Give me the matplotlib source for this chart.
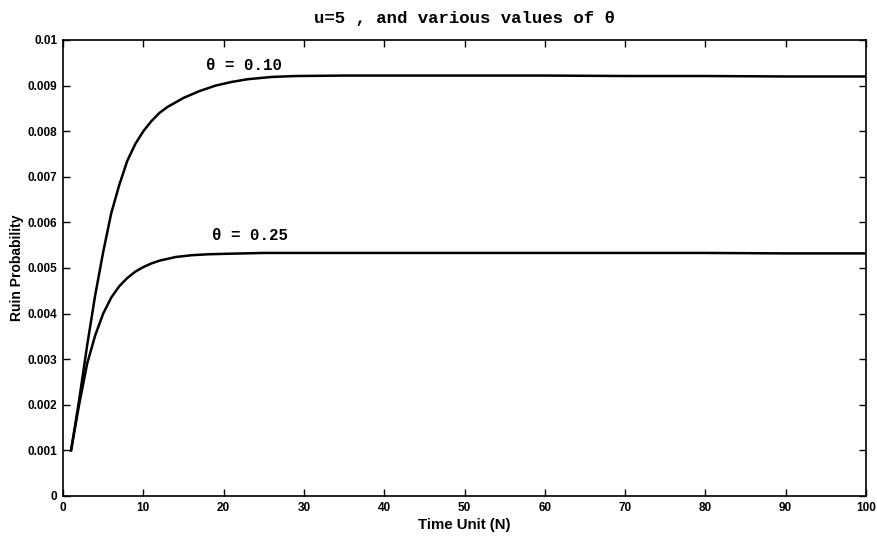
import matplotlib
matplotlib.use("Agg")
import matplotlib.pyplot as plt

# time units (N) and ruin probabilities
n_010 = [1, 2, 3, 4, 5, 6, 7, 8, 9, 10, 11, 12, 13, 15, 17, 19, 21, 23, 26, 29, 35, 40, 50, 60, 70, 80, 90, 100]
p_010 = [0.00100, 0.00210, 0.00330, 0.00440, 0.00535, 0.00620, 0.00682, 0.00735, 0.00772, 0.00800,
         0.00822, 0.00840, 0.00853, 0.00873, 0.00888, 0.00900, 0.00908, 0.00914, 0.00919, 0.00921,
         0.00922, 0.00922, 0.00922, 0.00922, 0.00921, 0.00921, 0.00920, 0.00920]

n_025 = [1, 2, 3, 4, 5, 6, 7, 8, 9, 10, 11, 12, 14, 16, 18, 20, 25, 30, 40, 50, 60, 70, 80, 90, 100]
p_025 = [0.00100, 0.00200, 0.00290, 0.00352, 0.00400, 0.00435, 0.00460, 0.00478, 0.00492, 0.00502,
         0.00510, 0.00516, 0.00524, 0.00528, 0.00530, 0.00531, 0.00533, 0.00533, 0.00533, 0.00533,
         0.00533, 0.00533, 0.00533, 0.00532, 0.00532]

x_ticks = [0, 10, 20, 30, 40, 50, 60, 70, 80, 90, 100]
y_ticks = [0, 0.001, 0.002, 0.003, 0.004, 0.005, 0.006, 0.007, 0.008, 0.009, 0.01]
y_tick_labels = ["0", "0.001", "0.002", "0.003", "0.004", "0.005",
                 "0.006", "0.007", "0.008", "0.009", "0.01"]

sans = "Liberation Sans"
mono = "Liberation Mono"

fig = plt.figure(figsize=(8.78, 5.39), dpi=100)
ax = fig.add_axes([0.0718, 0.0798, 0.9145, 0.846])

ax.plot(n_010, p_010, color="black", lw=1.8)
ax.plot(n_025, p_025, color="black", lw=1.8)

ax.text(17.8, 0.00945, "\u03b8 = 0.10", family=mono, fontweight="bold", fontsize=11.4, va="center")
ax.text(18.6, 0.00572, "\u03b8 = 0.25", family=mono, fontweight="bold", fontsize=11.4, va="center")

ax.set_xlim(0, 100)
ax.set_ylim(0, 0.01)
ax.set_xticks(x_ticks)
ax.set_xticklabels([str(v) for v in x_ticks], family=sans, fontweight="bold", fontsize=8.5)
ax.set_yticks(y_ticks)
ax.set_yticklabels(y_tick_labels, family=sans, fontweight="bold", fontsize=8.5)
ax.tick_params(direction="in", top=True, right=True, length=5, width=1, pad=4)

for s in ax.spines.values():
    s.set_linewidth(1.2)

ax.set_xlabel("Time Unit (N)", family=sans, fontweight="bold", fontsize=10.8, labelpad=3)
ax.set_ylabel("Ruin Probability", family=sans, fontweight="bold", fontsize=10, labelpad=3)
ax.set_title("u=5 , and various values of \u03b8", family=mono, fontweight="bold", fontsize=12.5, pad=12)

fig.savefig("out.png", dpi=100)
